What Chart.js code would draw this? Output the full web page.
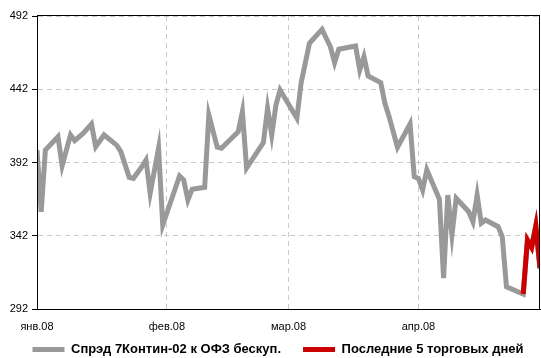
<!DOCTYPE html>
<html>
<head>
<meta charset="utf-8">
<script src="https://cdn.jsdelivr.net/npm/chart.js@4/dist/chart.umd.min.js"></script>
<style>
  html, body { margin: 0; padding: 0; background: #fff; }
  #wrap { width: 541px; height: 358px; }
</style>
</head>
<body>
<div id="wrap"><canvas id="chart"></canvas></div>
<script>
  // день 2008 года (0 = 1 янв.) и значения спрэда, б.п.
  const days = [
    0, 1, 2, 5, 6, 8, 9, 11, 13, 14, 16, 19, 20, 22, 23, 25, 26, 27, 29, 30,
    34, 35, 36, 37, 40, 41, 43, 44, 48, 49, 50, 54, 55, 56, 57, 58,
    62, 63, 65, 68, 70, 71, 72, 76, 77, 78, 79, 82, 83, 84, 86, 89, 90,
    91, 92, 93, 96, 97, 98, 99, 100, 103, 104, 105, 106, 107, 110, 111, 112,
    116, 117, 118, 119, 120
  ];
  const spread = [
    400.5, 358.4, 400.5, 409.6, 389.8, 410.8, 406.9, 411.9, 418.3, 402.8, 410.8, 403.9, 399.4, 381.9, 381.2, 389.1, 393.7, 371.0, 401.7, 349.3,
    382.8, 380.0, 366.4, 373.7, 375.1, 424.4, 402.4, 401.7, 413.0, 426.7, 388.2, 405.5, 429.0, 410.8, 431.2, 441.5,
    422.2, 446.1, 473.4, 482.9, 471.0, 460.1, 469.3, 471.5, 455.1, 464.2, 451.0, 446.5, 432.4, 423.3, 402.4, 418.3, 382.3,
    381.2, 373.2, 387.0, 366.9, 313.0, 369.8, 342.5, 367.6, 358.4, 351.6, 369.8, 350.5, 352.7, 348.2, 341.3, 307.2,
    302.2, 339.1, 334.1, 348.7, 319.8
  ];
  const lastN = 5;

  const monthTicks = [0, 31, 60, 91];
  const monthLabels = ['янв.08', 'фев.08', 'мар.08', 'апр.08'];
  const yTicks = [292, 342, 392, 442, 492];

  const seriesNames = ['Спрэд 7Контин-02 к ОФЗ бескуп.', 'Последние 5 торговых дней'];

  const FONT = "'Liberation Sans', Arial, sans-serif";

  const allPoints = days.map(function (d, i) { return { x: d, y: spread[i] }; });
  const lastPoints = allPoints.slice(-lastN);

  // рамка области построения
  const frame = {
    id: 'frame',
    afterDraw: function (chart) {
      const a = chart.chartArea;
      const ctx = chart.ctx;
      ctx.save();
      ctx.strokeStyle = '#000';
      ctx.lineWidth = 1;
      ctx.strokeRect(Math.round(a.left) + 0.5, Math.round(a.top) - 0.5, Math.round(a.right - a.left) - 1, Math.round(a.bottom - a.top) + 1);
      ctx.restore();
    }
  };

  // легенда: большой отступ между элементами, но без лишней высоты
  const legendShift = {
    id: 'legendShift',
    afterLayout: function (chart) {
      const lg = chart.legend;
      lg.top -= 12;
      lg.bottom = chart.height;
      lg.left += 8;
      lg.right += 8;
    }
  };

  new Chart(document.querySelector('#chart'), {
    type: 'line',
    data: {
      datasets: [{
        label: seriesNames[0],
        data: allPoints,
        borderColor: '#999999',
        backgroundColor: '#999999',
        borderWidth: 5,
        pointRadius: 0,
        tension: 0,
        order: 1
      }, {
        label: seriesNames[1],
        data: lastPoints,
        borderColor: '#cc0000',
        backgroundColor: '#cc0000',
        borderWidth: 5,
        pointRadius: 0,
        tension: 0,
        order: 0
      }]
    },
    options: {
      responsive: true,
      maintainAspectRatio: false,
      animation: false,
      layout: { padding: { top: 16, right: 1, left: 0, bottom: 0 } },
      plugins: {
        tooltip: { enabled: false },
        legend: {
          position: 'bottom',
          align: 'center',
          maxHeight: 25,
          sort: function (a, b) { return a.datasetIndex - b.datasetIndex; },
          labels: {
            usePointStyle: true,
            pointStyleWidth: 32,
            padding: 22,
            color: '#000',
            font: { family: FONT, size: 13, weight: 'bold' },
            generateLabels: function (chart) {
              return chart.data.datasets.map(function (ds, i) {
                return {
                  text: ds.label,
                  fillStyle: ds.borderColor,
                  strokeStyle: ds.borderColor,
                  lineWidth: 5,
                  hidden: false,
                  datasetIndex: i,
                  pointStyle: 'line'
                };
              });
            }
          }
        }
      },
      scales: {
        x: {
          type: 'linear',
          min: 0,
          max: 120,
          afterBuildTicks: function (scale) {
            scale.ticks = monthTicks.map(function (v) { return { value: v }; });
          },
          afterFit: function (scale) { scale.height = 24; },
          ticks: {
            color: '#000',
            font: { family: FONT, size: 11 },
            padding: 11,
            maxRotation: 0,
            autoSkip: false,
            callback: function (value) {
              const i = monthTicks.indexOf(value);
              return i >= 0 ? monthLabels[i] : '';
            }
          },
          grid: {
            color: function (c) { return c.tick && c.tick.value === 0 ? 'rgba(0,0,0,0)' : '#c8c8c8'; },
            lineWidth: 1,
            drawTicks: false
          },
          border: { display: true, color: '#000', width: 1, dash: [5, 4] }
        },
        y: {
          min: 292,
          max: 492,
          afterBuildTicks: function (scale) {
            scale.ticks = yTicks.map(function (v) { return { value: v }; });
          },
          afterFit: function (scale) { scale.width = 37; },
          ticks: {
            color: '#000',
            font: { family: FONT, size: 11 },
            padding: 4
          },
          grid: {
            color: '#c8c8c8',
            lineWidth: 1,
            tickColor: '#000',
            tickLength: 5
          },
          border: { display: true, color: '#000', width: 1, dash: [5, 4] }
        }
      }
    },
    plugins: [frame, legendShift]
  });
</script>
</body>
</html>
